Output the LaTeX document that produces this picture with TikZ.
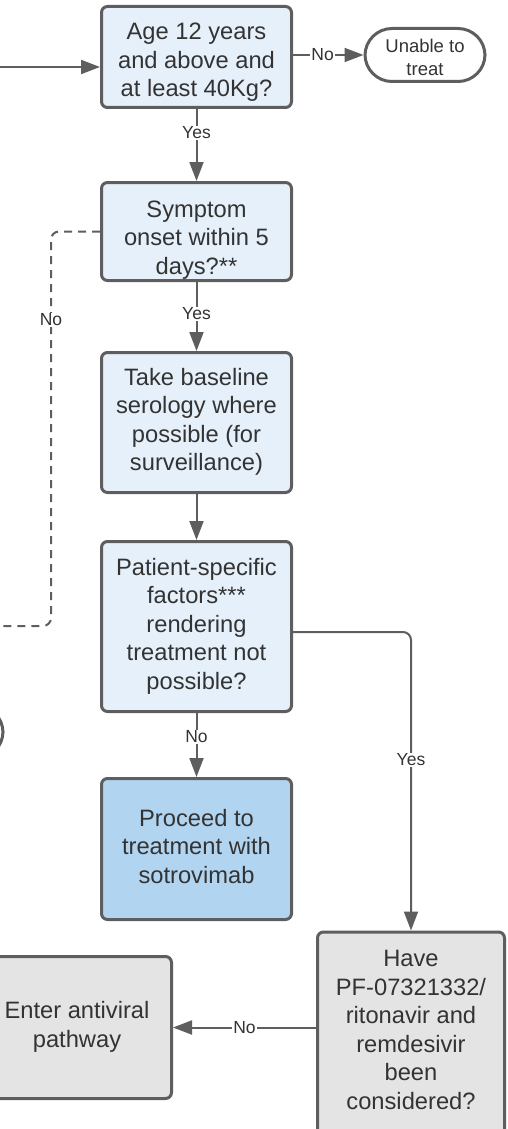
\documentclass[tikz,border=0pt]{standalone}
\usepackage{fontspec}
\setmainfont{Liberation Sans}
\usetikzlibrary{arrows.meta}
\definecolor{strk}{HTML}{5E5E5E}
\definecolor{txt}{HTML}{333333}
\definecolor{lblue}{HTML}{E6F0FA}
\definecolor{dblue}{HTML}{B1D5F0}
\definecolor{lgray}{HTML}{E4E4E4}
\newcommand\bigstrut{\rule[-6pt]{0pt}{22.5pt}}
\newcommand\smallstrut{\rule[-5pt]{0pt}{17.5pt}}
\begin{document}
\begin{tikzpicture}[x=1pt,y=-1pt,
  boxtext/.style={align=center, font=\fontsize{23.7}{28.5}\selectfont, text=txt, inner sep=0pt,
    execute at begin node=\bigstrut, execute at end node=\bigstrut},
  box/.style={boxtext, draw=strk, line width=3pt, rounded corners=6pt},
  termtext/.style={align=center, font=\fontsize{18.5}{22.5}\selectfont, text=txt, inner sep=0pt,
    execute at begin node=\smallstrut, execute at end node=\smallstrut},
  term/.style={draw=strk, line width=3pt, rounded corners=27pt, fill=white, inner sep=0pt},
  conn/.style={draw=strk, line width=2pt, -{Triangle[length=19pt,width=14pt]}},
  plain/.style={draw=strk, line width=2pt},
  lbl/.style={fill=white, text=txt, font=\fontsize{17.5}{20}\selectfont, inner sep=1pt}
]
\useasboundingbox (0,0) rectangle (507,1129);
\clip (0,0) rectangle (507,1129);

% nodes
\node[box, fill=lblue, minimum width=190pt, minimum height=101pt] (b1) at (196.5,57) {};
\node[boxtext] (b1t) at ([yshift=-6pt]b1.center) {Age 12 years\\and above and\\at least 40Kg?};
\node[term, minimum width=120pt, minimum height=53pt] (un) at (425,55) {};
\node[termtext] (unt) at ([yshift=-5pt]un.center) {Unable to\\treat};
\node[box, fill=lblue, minimum width=190pt, minimum height=98pt] (b2) at (196.5,231.5) {};
\node[boxtext] (b2t) at ([yshift=-9pt]b2.center) {Symptom\\onset within 5\\days?**};
\node[box, fill=lblue, minimum width=190pt, minimum height=140pt] (b3) at (196.5,422.5)
  {Take baseline\\serology where\\possible (for\\surveillance)};
\node[box, fill=lblue, minimum width=190pt, minimum height=170pt] (b4) at (196.5,626.5)
  {Patient-specific\\factors***\\rendering\\treatment not\\possible?};
\node[box, fill=dblue, minimum width=190pt, minimum height=141pt] (b5) at (196.5,849)
  {Proceed to\\treatment with\\sotrovimab};
\node[box, fill=lgray, minimum width=187pt, minimum height=204pt] (b6) at (411,1034) {};
\node[boxtext] (b6t) at ([yshift=1pt]b6.center)
  {Have\\PF-07321332/\\ritonavir and\\remdesivir\\been\\considered?};
\node[box, fill=lgray, minimum width=189pt, minimum height=142pt] (b7) at (77,1027.5)
  {Enter antiviral\\pathway};
\node[term, minimum width=130pt, minimum height=53pt] (lt) at (-62,732) {};

% connectors
\coordinate (start) at (-5,67);
\draw[conn] (start) -- (start -| b1.west);
\draw[conn] (b1.east |- un.west) -- node[lbl, pos=0.42] {No} (un.west);
\draw[conn] (b1.south) -- node[lbl, pos=0.33] {Yes} (b2.north);
\draw[conn] (b2.south) -- node[lbl, pos=0.46] {Yes} (b3.north);
\draw[conn] (b3.south) -- (b4.north);
\draw[conn] (b4.south) -- node[lbl, pos=0.37] {No} (b5.north);

\coordinate (nocorner) at (51,626);
\coordinate (noend) at (-5,626);
\draw[plain, dash pattern=on 8pt off 6pt, rounded corners=8pt]
  (b2.west) -| (nocorner) -- (noend);
\node[lbl] (nolbl) at (51,320) {No};

\draw[conn, rounded corners=8pt] ([yshift=-5.5pt]b4.east) -| (b6.north);
\node[lbl] (yeslbl) at (411,760) {Yes};

\draw[conn] (b7.east -| b6.west) -- node[lbl, pos=0.5] {No} (b7.east);
\end{tikzpicture}
\end{document}
